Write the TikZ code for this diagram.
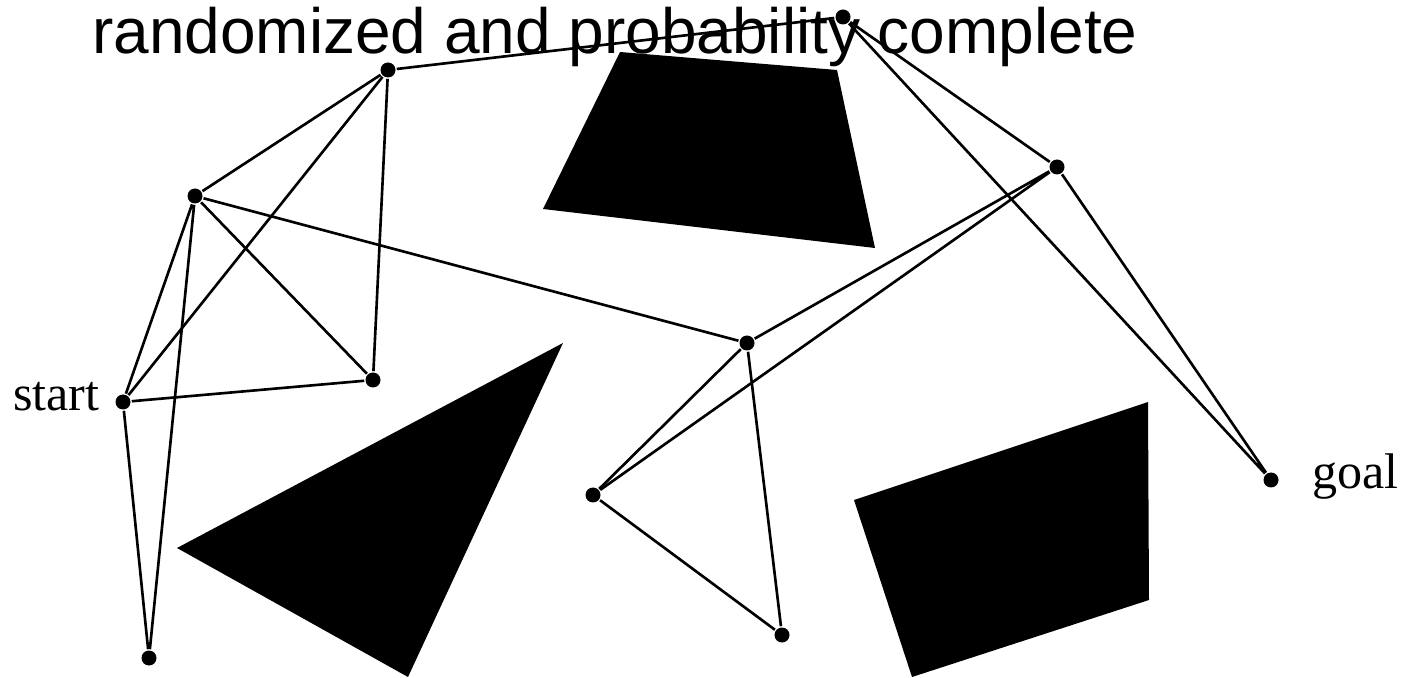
\documentclass[tikz,border=0pt]{standalone}
\usepackage{fontspec}
\setmainfont{Liberation Serif}
\newfontfamily\titlefont{Liberation Sans}
\usepackage{tikz}

\begin{document}
\begin{tikzpicture}[x=0.2mm,y=-0.2mm,line width=1.5pt,
  wp/.style={circle,fill=black,inner sep=0pt,minimum size=3mm},
  obst/.style={fill=black,draw=none}]
\useasboundingbox (0,0) rectangle (1401,678);
% obstacles
\path[obst] (620,52)--(837,70)--(875,248)--(543,209)--cycle;
\path[obst] (563,343)--(177,548)--(408,677)--cycle;
\path[obst] (854,500)--(1148,402)--(1149,600)--(912,677)--cycle;
% sampled configurations
\node[wp] (s) at (123,402) {};
\node[wp] (g) at (1271,480) {};
\node[wp] (m1) at (388,70) {};
\node[wp] (m2) at (195,196) {};
\node[wp] (m3) at (373,380) {};
\node[wp] (m4) at (149,658) {};
\node[wp] (m5) at (843,17) {};
\node[wp] (m6) at (1057,167) {};
\node[wp] (m7) at (747,343) {};
\node[wp] (m8) at (593,495) {};
\node[wp] (m9) at (782,635) {};
% roadmap edges
\draw (m1)--(m2) (m1)--(s) (m1)--(m3) (m1)--(m5);
\draw (m2)--(s) (m2)--(m4) (m2)--(m3) (m2)--(m7);
\draw (s)--(m3) (s)--(m4);
\draw (m5)--(m6) (m5)--(g) (m6)--(g);
\draw (m6)--(m7) (m6)--(m8);
\draw (m7)--(m8) (m7)--(m9) (m8)--(m9);
% labels
\node[anchor=base west,inner sep=0pt,font=\fontsize{28.5}{32}\selectfont] (lstart) at (12,411) {start};
\node[anchor=base west,inner sep=0pt,font=\fontsize{28.5}{32}\selectfont] (lgoal) at (1311,489) {goal};
\node[anchor=base west,inner sep=0pt,font=\titlefont\fontsize{36.4}{40}\selectfont] (title) at (91,54) {randomized and probability complete};
\end{tikzpicture}
\end{document}
